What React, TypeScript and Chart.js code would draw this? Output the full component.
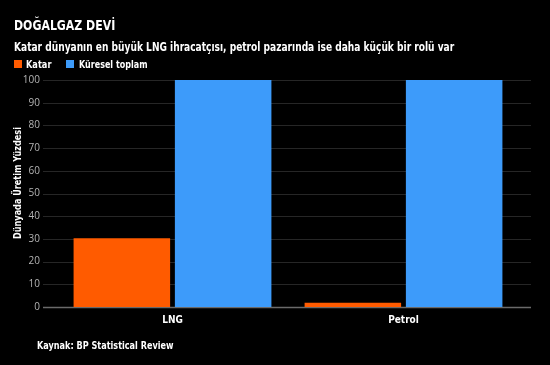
import React, { useEffect, useRef } from "react";
import { Chart, registerables } from "chart.js";

Chart.register(...registerables);

const categories = ["LNG", "Petrol"];
const katarValues = [30.3, 1.9];
const globalValues = [100, 100];
const seriesNames = ["Katar", "Küresel toplam"];
const yTicks = [0, 10, 20, 30, 40, 50, 60, 70, 80, 90, 100];

const titleText = "DOĞALGAZ DEVİ";
const subtitleText = "Katar dünyanın en büyük LNG ihracatçısı, petrol pazarında ise daha küçük bir rolü var";
const yTitleText = "Dünyada Üretim Yüzdesi";
const sourceText = "Kaynak: BP Statistical Review";

const ORANGE = "#ff5b00";
const BLUE = "#3d9bfa";
const FONT = "'DejaVu Sans Condensed', 'DejaVu Sans', sans-serif";

const gridPlugin = {
  id: "customGrid",
  beforeDatasetsDraw(chart: any) {
    const ctx = chart.ctx;
    const y = chart.scales.y;
    ctx.save();
    yTicks.forEach((v) => {
      const py = Math.round(y.getPixelForValue(v)) + 0.5;
      ctx.beginPath();
      ctx.strokeStyle = v === 0 ? "#6a6a6a" : "#262626";
      ctx.lineWidth = v === 0 ? 1.5 : 1;
      ctx.moveTo(43, py);
      ctx.lineTo(531, py);
      ctx.stroke();
    });
    ctx.restore();
  },
  afterDraw(chart: any) {
    const ctx = chart.ctx;
    ctx.save();
    ctx.translate(18, 183);
    ctx.rotate(-Math.PI / 2);
    ctx.scale(0.86, 1);
    ctx.fillStyle = "#ffffff";
    ctx.font = "bold 10.5px " + FONT;
    ctx.textAlign = "center";
    ctx.textBaseline = "middle";
    ctx.fillText(yTitleText, 0, 0);
    ctx.restore();
  },
};

export default function App() {
  const ref = useRef<HTMLCanvasElement>(null);
  useEffect(() => {
    document.body.style.margin = "0";
    document.body.style.background = "#000";
    const chart = new Chart(ref.current!, {
      type: "bar",
      data: {
        labels: categories,
        datasets: [
          {
            label: seriesNames[0],
            data: katarValues,
            backgroundColor: ORANGE,
            categoryPercentage: 0.877,
            barPercentage: 0.953,
          },
          {
            label: seriesNames[1],
            data: globalValues,
            backgroundColor: BLUE,
            categoryPercentage: 0.877,
            barPercentage: 0.953,
          },
        ],
      },
      options: {
        animation: false,
        responsive: false,
        maintainAspectRatio: false,
        layout: { padding: { left: 0, right: 31, top: 80, bottom: 0 } },
        plugins: {
          legend: { display: false },
          title: { display: false },
          tooltip: { enabled: false },
        },
        scales: {
          x: {
            grid: { display: false, drawTicks: false },
            border: { display: false },
            ticks: {
              color: "#ffffff",
              font: { family: FONT, size: 10, weight: "bold" },
              padding: 7,
            },
            afterFit: (a: any) => {
              a.height = 58;
            },
          },
          y: {
            min: 0,
            max: 100,
            grid: { display: false, drawTicks: false },
            border: { display: false },
            afterBuildTicks: (a: any) => {
              a.ticks = yTicks.map((v) => ({ value: v }));
            },
            ticks: {
              color: "#b4b4b4",
              font: { family: "'Open Sans', sans-serif", size: 10 },
              padding: 17,
            },
            afterFit: (a: any) => {
              a.width = 57;
            },
          },
        },
      },
      plugins: [gridPlugin],
    });
    return () => chart.destroy();
  }, []);

  const txt: React.CSSProperties = {
    position: "absolute",
    color: "#fff",
    fontFamily: FONT,
    fontWeight: "bold",
    whiteSpace: "nowrap",
    lineHeight: 1,
    transformOrigin: "left top",
  };

  return (
    <div style={{ position: "fixed", left: 0, top: 0, width: 550, height: 365, background: "#000", overflow: "hidden" }}>
      <canvas ref={ref} width={550} height={365} style={{ position: "absolute", left: 0, top: 0, width: 550, height: 365 }} />
      <div style={{ ...txt, left: 14, top: 18, fontSize: 14, transform: "scaleX(0.87)" }}>{titleText}</div>
      <div style={{ ...txt, left: 14, top: 41, fontSize: 12, transform: "scaleX(0.84)" }}>{subtitleText}</div>
      <div style={{ position: "absolute", left: 14, top: 60, width: 8, height: 8, background: ORANGE }} />
      <div style={{ ...txt, left: 26, top: 58.5, fontSize: 11, transform: "scaleX(0.83)" }}>{seriesNames[0]}</div>
      <div style={{ position: "absolute", left: 66, top: 60, width: 8, height: 8, background: BLUE }} />
      <div style={{ ...txt, left: 79, top: 58.5, fontSize: 11, transform: "scaleX(0.81)" }}>{seriesNames[1]}</div>
      <div style={{ ...txt, left: 37, top: 340, fontSize: 11, transform: "scaleX(0.82)" }}>{sourceText}</div>
    </div>
  );
}
